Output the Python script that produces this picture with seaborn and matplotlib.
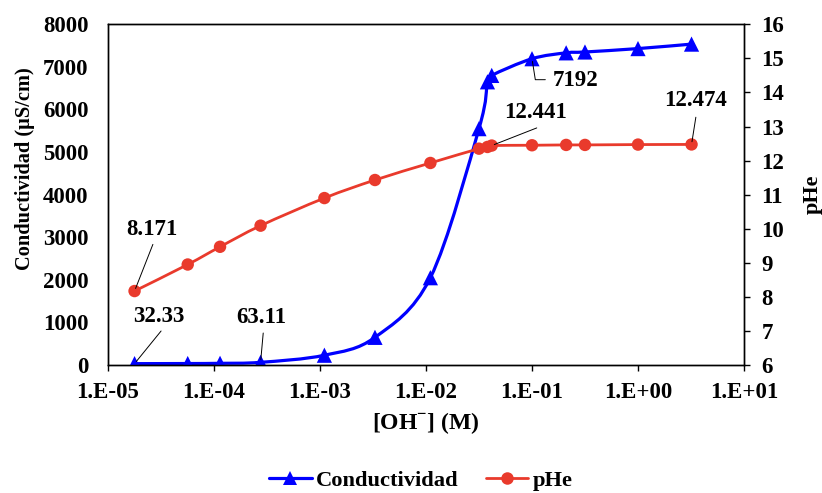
import numpy as np
import matplotlib
matplotlib.use("Agg")
import matplotlib.pyplot as plt
import seaborn as sns
from matplotlib.path import Path
from matplotlib.patches import PathPatch
from matplotlib.lines import Line2D
from matplotlib.ticker import FixedLocator, FuncFormatter, NullLocator, MultipleLocator

# Datos
oh = [1.78e-5, 5.65e-5, 1.14e-4, 2.75e-4, 1.1e-3, 3.3e-3, 1.1e-2, 3.16e-2,
      3.8e-2, 4.17e-2, 0.1, 0.21, 0.316, 1.0, 3.2]
conductividad = [32.33, 35, 40, 63.11, 230, 650, 2050, 5550,
                 6650, 6800, 7192, 7330, 7350, 7430, 7535]
phe = [8.171, 8.95, 9.47, 10.09, 10.9, 11.43, 11.93, 12.35,
       12.40, 12.441, 12.45, 12.46, 12.46, 12.47, 12.474]
xtick_exp = [-5, -4, -3, -2, -1, 0, 1]

azul = "#0000FF"
rojo = "#E93A2C"

sns.set_style("white", {"axes.edgecolor": "black", "xtick.color": "black",
                        "ytick.color": "black", "text.color": "black",
                        "axes.labelcolor": "black"})
plt.rcParams["font.family"] = ["Liberation Serif", "DejaVu Serif"]
plt.rcParams["font.weight"] = "bold"
plt.rcParams["axes.labelweight"] = "bold"
plt.rcParams["mathtext.fontset"] = "custom"
plt.rcParams["mathtext.rm"] = "Liberation Serif:bold"
plt.rcParams["mathtext.bf"] = "Liberation Serif:bold"


def curva_suave(xs, ys):
    # linea suavizada tipo Excel (Catmull-Rom en espacio log-x)
    lx = np.log10(xs)
    y = np.asarray(ys, float)
    px = np.r_[lx[0], lx, lx[-1]]
    py = np.r_[y[0], y, y[-1]]
    verts = [(xs[0], y[0])]
    codes = [Path.MOVETO]
    for i in range(1, len(px) - 2):
        c1 = (px[i] + (px[i + 1] - px[i - 1]) / 6, py[i] + (py[i + 1] - py[i - 1]) / 6)
        c2 = (px[i + 1] - (px[i + 2] - px[i]) / 6, py[i + 1] - (py[i + 2] - py[i]) / 6)
        verts += [(10 ** c1[0], c1[1]), (10 ** c2[0], c2[1]), (10 ** px[i + 1], py[i + 1])]
        codes += [Path.CURVE4] * 3
    return Path(verts, codes)


fig = plt.figure(figsize=(8.22, 4.93), dpi=100)
ax = fig.add_axes([0.1314, 0.2596, 0.7737, 0.6911])
ax2 = ax.twinx()

# Conductividad (eje izquierdo)
ax.add_patch(PathPatch(curva_suave(oh, conductividad), fill=False, edgecolor=azul, lw=2.3, zorder=2))
sns.scatterplot(x=oh, y=conductividad, ax=ax, marker="^", s=120, color=azul,
                edgecolor="none", linewidth=0, zorder=3)

# pHe (eje derecho)
ax2.add_patch(PathPatch(curva_suave(oh, phe), fill=False, edgecolor=rojo, lw=2.0, zorder=2))
sns.scatterplot(x=oh, y=phe, ax=ax2, marker="o", s=80, color=rojo,
                edgecolor="none", linewidth=0, zorder=3)

ax.set_xscale("log")
ax.set_xlim(1e-5, 10)
ax.xaxis.set_major_locator(FixedLocator([10.0 ** e for e in xtick_exp]))
ax.xaxis.set_minor_locator(NullLocator())
ax.xaxis.set_major_formatter(FuncFormatter(lambda v, p: f"1.E{int(round(np.log10(v))):+03d}"))
ax.set_ylim(0, 8000)
ax.yaxis.set_major_locator(MultipleLocator(1000))
ax2.set_ylim(6, 16)
ax2.yaxis.set_major_locator(MultipleLocator(1))

ax.tick_params(axis="x", direction="out", length=4, width=1, pad=8, labelsize=16.5, bottom=True)
ax.tick_params(axis="y", length=0, pad=14, labelsize=16.5, left=True)
ax2.tick_params(axis="y", direction="out", length=4.5, width=1, pad=8, labelsize=16.5, right=True)
for a in (ax, ax2):
    for s in a.spines.values():
        s.set_linewidth(1)
        s.set_color("black")
    for lab in a.get_xticklabels() + a.get_yticklabels():
        lab.set_fontweight("bold")

ax.set_xlabel(r"[OH$^{\mathbf{-}}$] (M)", fontsize=17, labelpad=5)
ax.set_ylabel("Conductividad (µS/cm)", fontsize=14.7, labelpad=6)
ax.yaxis.label.set_y(0.575)
ax2.set_ylabel("pHe", fontsize=16, labelpad=13, rotation=90)

# Etiquetas de datos con lineas guia
etiquetas = [
    (ax, oh[0], conductividad[0], "32.33", (19.1, 23.5), (17.6, 34.3), None),
    (ax, oh[3], conductividad[3], "63.11", (1.9, 21.1), (0.2, 32.6), None),
    (ax2, oh[0], phe[0], "8.171", (13.2, 33.6), (12.2, 44.4), None),
    (ax, oh[10], conductividad[10], "7192", (9.6, -15.1), (31.2, -15.6), "angle,angleA=0,angleB=-81,rad=0"),
    (ax2, oh[9], phe[9], "12.441", (32.4, 12.7), (31.5, 23.8), None),
    (ax2, oh[14], phe[14], "12.474", (3.1, 19.6), (3.1, 31.3), None),
]
for a, xv, yv, txt, guia, pos, estilo in etiquetas:
    props = dict(arrowstyle="-", color="black", lw=0.7, shrinkA=0, shrinkB=2)
    if estilo:
        props["connectionstyle"] = estilo
    a.annotate("", xy=(xv, yv), xytext=guia, textcoords="offset points", arrowprops=props, zorder=4)
    a.annotate(txt, xy=(xv, yv), xytext=pos, textcoords="offset points", ha="center", va="center",
               fontsize=16.5, fontweight="bold", zorder=4)

handles = [
    Line2D([], [], color=azul, lw=2.3, marker="^", markersize=10.5, markeredgewidth=0),
    Line2D([], [], color=rojo, lw=2.0, marker="o", markersize=9, markeredgewidth=0),
]
fig.legend(handles, ["Conductividad", "pHe"], loc="center", bbox_to_anchor=(0.512, 0.025),
           ncol=2, frameon=False, handlelength=1.9, handletextpad=0.2,
           columnspacing=1.2, prop={"weight": "bold", "size": 16.2})

fig.savefig("out.png", dpi=100)
